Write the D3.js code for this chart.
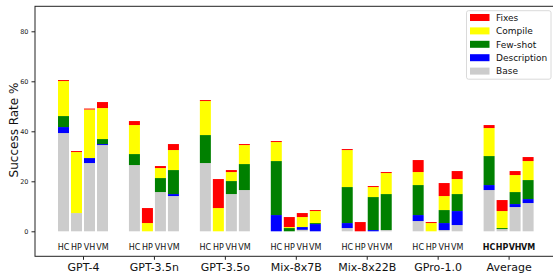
<!DOCTYPE html>
<html>
<head>
<meta charset="utf-8">
<script src="https://cdn.jsdelivr.net/npm/d3@7"></script>
<style>
  html, body { margin: 0; padding: 0; background: #fff; }
  svg { display: block; font-family: "DejaVu Sans", sans-serif; }
</style>
</head>
<body>
<svg id="chart" width="553" height="274"></svg>
<script>
// ---- data ----
const models = ["GPT-4", "GPT-3.5n", "GPT-3.5o", "Mix-8x7B", "Mix-8x22B", "GPro-1.0", "Average"];
const variants = ["HC", "HP", "VH", "VM"];
const seriesNames = ["Base", "Description", "Few-shot", "Compile", "Fixes"];
const yTicks = [0, 20, 40, 60, 80];

// increments per model, per variant (HC, HP, VH, VM)
const base = [
  [39.3, 7.3, 27.3, 34.5],
  [26.5, 0, 15.7, 14.1],
  [27.3, 0, 14.9, 16.5],
  [0, 0, 0.6, 0],
  [1.3, 0, 0, 0.5],
  [4.1, 0, 0.5, 2.5],
  [16.5, 0.9, 9.7, 11.3]
];
const description = [
  [2.4, 0, 2.0, 0.4],
  [0, 0, 0, 0.8],
  [0, 0, 0, 0],
  [6.5, 0, 1.1, 2.9],
  [2.0, 0, 0.5, 0],
  [2.4, 0, 2.8, 5.6],
  [2.0, 0, 1.2, 1.6]
];
const fewShot = [
  [4.4, 0, 0, 2.0],
  [4.4, 0, 5.6, 9.6],
  [11.2, 0, 5.2, 10.4],
  [21.6, 1.3, 0, 0.4],
  [14.4, 0, 13.2, 14.4],
  [12.0, 0, 5.2, 6.8],
  [11.6, 0.4, 4.8, 7.6]
];
const compile = [
  [14.0, 24.4, 19.4, 12.4],
  [11.6, 3.3, 4.0, 8.0],
  [13.6, 9.3, 3.6, 7.6],
  [7.6, 0.4, 4.0, 4.8],
  [14.8, 0, 4.0, 8.4],
  [5.2, 3.3, 5.6, 6.0],
  [11.2, 6.8, 6.8, 7.6]
];
const fixes = [
  [0.4, 0.4, 0.4, 2.4],
  [1.6, 6.0, 0.8, 2.4],
  [0.4, 11.6, 0.8, 0.4],
  [0.4, 4.0, 1.6, 0.4],
  [0.4, 3.7, 0.4, 0.4],
  [4.8, 0.4, 5.2, 3.2],
  [1.2, 4.4, 1.6, 1.6]
];

const colors = {
  "Base": "#cccccc",
  "Description": "#0000ff",
  "Few-shot": "#008000",
  "Compile": "#ffff00",
  "Fixes": "#ff0000"
};

// ---- build rows ----
const seriesArrays = [base, description, fewShot, compile, fixes];
const rows = [];
models.forEach((m, gi) => {
  variants.forEach((v, vi) => {
    const r = { model: m, variant: v };
    seriesNames.forEach((s, si) => { r[s] = seriesArrays[si][gi][vi]; });
    rows.push(r);
  });
});
const stacked = d3.stack().keys(seriesNames)(rows);

// ---- layout ----
const svg = d3.select("#chart");
const frame = { left: 35, right: 556, top: 6.3, bottom: 256.3 };

const x0 = d3.scalePoint().domain(models).range([83, 508.6]);
const x1 = d3.scaleBand().domain(variants).range([-25, 25]).paddingInner(2 / 13).paddingOuter(0);
const y = d3.scaleLinear().domain([-10, 90]).range([frame.bottom, frame.top]);

// bars
const layer = svg.append("g");
stacked.forEach(s => {
  layer.append("g")
    .attr("fill", colors[s.key])
    .selectAll("rect")
    .data(s)
    .join("rect")
    .attr("x", d => x0(d.data.model) + x1(d.data.variant))
    .attr("width", x1.bandwidth())
    .attr("y", d => y(d[1]))
    .attr("height", d => Math.max(0, y(d[0]) - y(d[1])));
});

// variant labels
const labG = svg.append("g").attr("font-size", 8).attr("fill", "#111").attr("text-anchor", "middle");
rows.forEach(r => {
  labG.append("text")
    .attr("x", x0(r.model) + x1(r.variant) + x1.bandwidth() / 2)
    .attr("y", 250)
    .attr("font-weight", r.model === "Average" ? "bold" : "normal")
    .text(r.variant);
});

// frame
svg.append("rect")
  .attr("x", frame.left).attr("y", frame.top)
  .attr("width", frame.right - frame.left).attr("height", frame.bottom - frame.top)
  .attr("fill", "none").attr("stroke", "#222").attr("stroke-width", 1);

// y axis
const yAxis = d3.axisLeft(y).tickValues(yTicks).tickSize(3.5).tickPadding(3);
const yg = svg.append("g").attr("transform", `translate(${frame.left},0)`).call(yAxis);
yg.select(".domain").remove();
yg.selectAll("text").attr("font-size", 6.5).attr("fill", "#222").attr("font-family", "DejaVu Sans");
yg.selectAll("line").attr("stroke", "#222");

// x axis
const xAxis = d3.axisBottom(x0).tickSize(3.5).tickPadding(3);
const xg = svg.append("g").attr("transform", `translate(0,${frame.bottom})`).call(xAxis);
xg.select(".domain").remove();
xg.selectAll("text").attr("font-size", 11).attr("fill", "#111").attr("font-family", "DejaVu Sans");
xg.selectAll("line").attr("stroke", "#222");

// y label
svg.append("text")
  .attr("transform", `translate(18,130) rotate(-90)`)
  .attr("text-anchor", "middle")
  .attr("font-size", 12)
  .attr("fill", "#111")
  .text("Success Rate %");

// legend
const legendOrder = ["Fixes", "Compile", "Few-shot", "Description", "Base"];
const lg = svg.append("g");
lg.append("rect")
  .attr("x", 466.5).attr("y", 10.7).attr("width", 84.5).attr("height", 68.5)
  .attr("rx", 2).attr("fill", "#fff").attr("fill-opacity", 0.8)
  .attr("stroke", "#d0d0d0").attr("stroke-width", 0.8);
legendOrder.forEach((k, i) => {
  const cy = 17.5 + i * 13.4;
  lg.append("rect").attr("x", 470).attr("y", cy - 3.5).attr("width", 19.5).attr("height", 7).attr("fill", colors[k]);
  lg.append("text").attr("x", 496).attr("y", cy + 3.2).attr("font-size", 9).attr("fill", "#111").text(k);
});
</script>
</body>
</html>
